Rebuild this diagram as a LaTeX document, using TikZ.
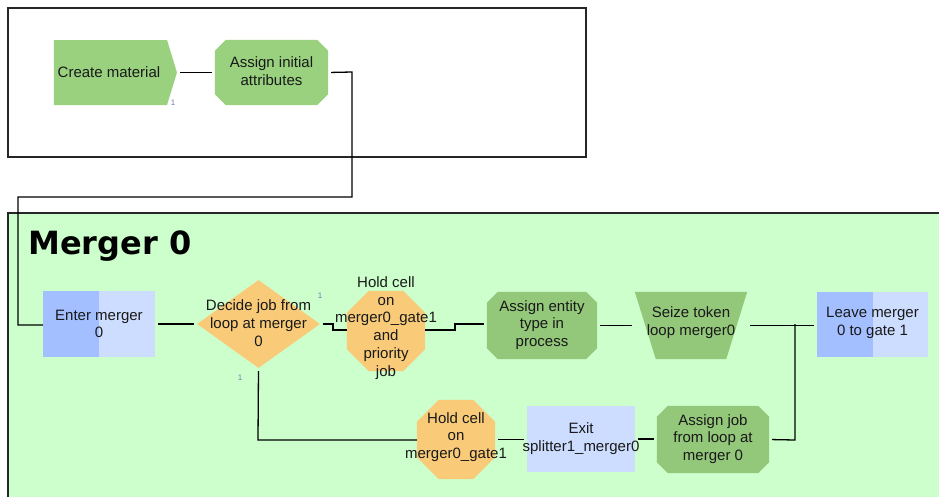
\documentclass[tikz,border=0pt]{standalone}
\usepackage{fontspec}
\setmainfont{Liberation Sans}
\newfontfamily\titlefont{DejaVu Sans}
\usetikzlibrary{shapes.geometric,shapes.symbols,calc}
\definecolor{grnA}{HTML}{99D17F}
\definecolor{grnB}{HTML}{93C77A}
\definecolor{orng}{HTML}{F9CB79}
\definecolor{bluD}{HTML}{A3BFFF}
\definecolor{bluL}{HTML}{CCDDFF}
\definecolor{panel}{HTML}{CCFFCC}
\definecolor{tagc}{HTML}{7080B0}
\newcommand\chamfill[3]{%
  \fill[#1] ($(#2.north west)+(#3,0)$) -- ($(#2.north east)+(-#3,0)$) -- ($(#2.north east)+(0,#3)$)
  -- ($(#2.south east)+(0,-#3)$) -- ($(#2.south east)+(-#3,0)$) -- ($(#2.south west)+(#3,0)$)
  -- ($(#2.south west)+(0,-#3)$) -- ($(#2.north west)+(0,#3)$) -- cycle;}
\tikzset{
  x=1pt, y=-1pt,
  lbl/.style={font=\fontsize{15}{17.8}\selectfont, align=center, inner sep=0pt, text=black!90},
  box/.style={rectangle, draw=none, inner sep=0pt},
  conn/.style={draw=black, line width=1.3pt, shorten <=3pt, shorten >=3pt},
  tag/.style={font=\fontsize{8}{8}\selectfont, text=tagc, inner sep=0pt},
  frame/.style={draw=black!85, line width=1.4pt}
}
\begin{document}
\begin{tikzpicture}
\useasboundingbox (0,0) rectangle (939,496);
% frames
\draw[frame, fill=white] (8,8) rectangle (586,157);
\draw[frame, fill=panel] (8,213) rectangle (960,520);
\node[anchor=base west, inner sep=0pt, font=\titlefont\bfseries\fontsize{32}{32}\selectfont] (title) at (28,254) {Merger 0};

% top row
\node[signal, signal to=east, signal pointer angle=146, fill=grnA, draw=none, minimum width=123pt, minimum height=65pt, inner sep=0pt] (create) at (110.5,72.5) {};
\node[lbl] at (109,72) {Create material};
\node[tag] (t0) at (173,103) {1};
\node[box, minimum width=113pt, minimum height=65pt] (assign1) at (271.5,72.5) {};
\chamfill{grnA}{assign1}{11}
\node[lbl] at (271.5,71) {Assign initial\\attributes};

% merger row 1
\node[fill=bluL, minimum width=112pt, minimum height=66pt, inner sep=0pt] (enter) at (99,324) {};
\fill[bluD] (enter.north west) rectangle (enter.south);
\node[lbl] at (99,324) {Enter merger\\0};

\node[diamond, fill=orng, draw=none, minimum width=123pt, minimum height=88pt, inner sep=0pt] (decide) at (258.5,324) {};
\node[lbl] at (258.5,323) {Decide job from\\loop at merger\\0};
\node[tag] (t1) at (320,296) {1};
\node[tag] (t2) at (240,378) {1};

\node[box, minimum width=78pt, minimum height=80pt] (hold1) at (386,331) {};
\chamfill{orng}{hold1}{22}
\node[lbl] at (386,328) {Hold cell\\on\\merger0\_gate1\\and\\priority\\job};

\node[box, minimum width=110pt, minimum height=67pt] (assignE) at (542,325.5) {};
\chamfill{grnB}{assignE}{11}
\node[lbl] at (542,325) {Assign entity\\type in\\process};

\node[box, minimum width=112pt, minimum height=67pt] (seize) at (691,325.5) {};
\fill[grnB] (seize.north west) -- (seize.north east) -- ($(seize.south east)+(-21,0)$) -- ($(seize.south west)+(21,0)$) -- cycle;
\node[lbl] at (691,323) {Seize token\\loop merger0};

\node[fill=bluL, minimum width=111pt, minimum height=65pt, inner sep=0pt] (leave) at (872.5,324.5) {};
\fill[bluD] (leave.north west) rectangle (leave.south);
\node[lbl] at (872.5,323) {Leave merger\\0 to gate 1};

% merger row 2
\node[box, minimum width=78pt, minimum height=79pt] (hold2) at (456,439.5) {};
\chamfill{orng}{hold2}{22}
\node[lbl] at (456,437) {Hold cell\\on\\merger0\_gate1};

\node[fill=bluL, minimum width=108pt, minimum height=66pt, inner sep=0pt] (exit) at (581,439) {};
\node[lbl] at (581,439) {Exit\\splitter1\_merger0};

\node[box, minimum width=112pt, minimum height=67pt] (assignJ) at (713,439.5) {};
\chamfill{grnB}{assignJ}{11}
\node[lbl] at (713,439) {Assign job\\from loop at\\merger 0};

% coordinates for bends
\coordinate (c1) at (352,72);
\coordinate (c2) at (352,197);
\coordinate (c3) at (18,197);
\coordinate (c4) at (18,325);
\coordinate (d1) at (333,324);
\coordinate (d2) at (333,330);
\coordinate (e1) at (455,330);
\coordinate (e2) at (455,324);
\coordinate (j1) at (795,324);
\coordinate (j2) at (795,440);
\coordinate (k1) at (258,440);

% connectors
\draw[conn] (create.east) -- (create.east -| assign1.west);
\draw[conn, shorten >=0pt] (assign1.east) -- (c1) -- (c2) -- (c3) -- (c4) -- (c4 -| enter.west);
\draw[conn] (enter.east) -- (decide.west);
\draw[conn, shorten >=0pt] (decide.east) -- (d1) -- (d2) -- (d2 -| hold1.west);
\draw[conn, shorten <=0pt] (e1 -| hold1.east) -- (e1) -- (e2) -- (e2 -| assignE.west);
\draw[conn] (assignE.east) -- (assignE.east -| seize.west);
\draw[conn] (seize.east) -- (seize.east -| leave.west);
\draw[conn, shorten >=0pt] (assignJ.east) -- (j2) -- (j1);
\draw[conn, shorten >=0pt] (decide.south) -- (k1) -- (k1 -| hold2.west);
\draw[conn] (hold2.east) -- (hold2.east -| exit.west);
\draw[conn] (exit.east) -- (exit.east -| assignJ.west);
\end{tikzpicture}
\end{document}
